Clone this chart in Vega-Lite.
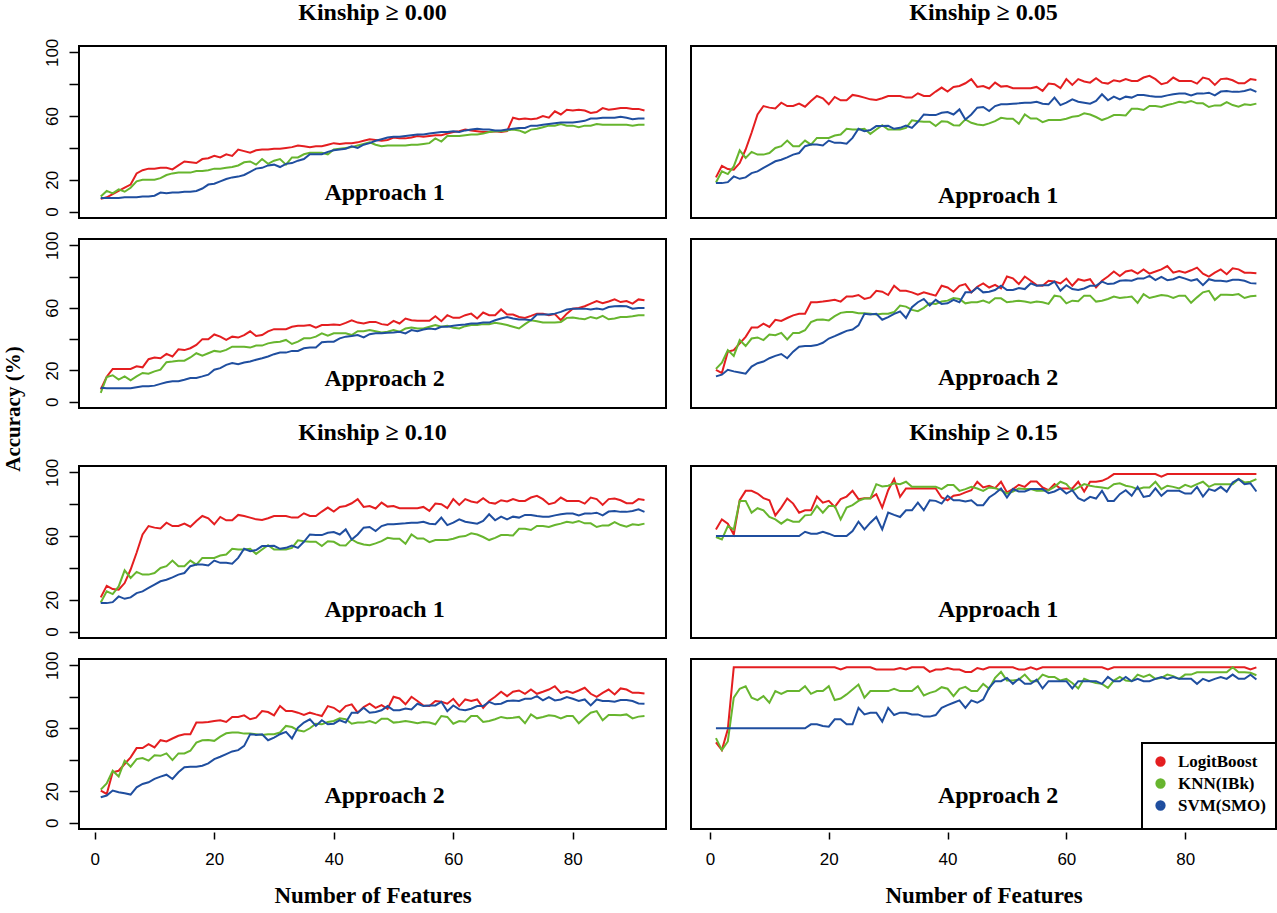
{
"$schema":"https://vega.github.io/schema/vega-lite/v6.json",
"background":"white",
"padding":{"left":2,"top":0,"right":0,"bottom":0},
"title":{"text":"Accuracy (%)","orient":"left","anchor":"middle","font":"Liberation Serif","fontSize":21,"fontWeight":"bold","color":"black","offset":18,"dx":45},
"config":{
 "view":{"stroke":"black","strokeWidth":2},
 "axis":{"labelFont":"Liberation Sans","labelFontSize":17,"labelColor":"black","tickColor":"black","grid":false,"titleFont":"Liberation Serif","titleFontWeight":"bold","titleFontSize":23,"titleColor":"black"},
 "title":{"font":"Liberation Serif","fontSize":24,"fontWeight":"bold","color":"black","offset":13},
 "text":{"font":"Liberation Serif","fontWeight":"bold","fontSize":24,"color":"black","baseline":"middle"}
},
"datasets":{"d":[
{"p":"A","x":1,"L":8,"K":9.5,"S":8.5},{"p":"A","x":2,"L":9,"K":13,"S":8.5},{"p":"A","x":3,"L":11,"K":11.5,"S":8.5},{"p":"A","x":4,"L":13,"K":14,"S":8.5},{"p":"A","x":5,"L":15,"K":12.5,"S":9},{"p":"A","x":6,"L":17,"K":15,"S":9},{"p":"A","x":7,"L":24,"K":19,"S":9},{"p":"A","x":8,"L":26,"K":20,"S":9.5},{"p":"A","x":9,"L":27,"K":20,"S":9.5},{"p":"A","x":10,"L":27,"K":20,"S":10},
{"p":"A","x":11,"L":27.5,"K":21,"S":12},{"p":"A","x":12,"L":27.5,"K":23,"S":11.5},{"p":"A","x":13,"L":26.5,"K":24,"S":12},{"p":"A","x":14,"L":29,"K":24.5,"S":12},{"p":"A","x":15,"L":31.5,"K":24.5,"S":12.5},{"p":"A","x":16,"L":31,"K":24.5,"S":12.5},{"p":"A","x":17,"L":30.5,"K":25.5,"S":13},{"p":"A","x":18,"L":33,"K":25.5,"S":14.5},{"p":"A","x":19,"L":33.5,"K":26,"S":17},{"p":"A","x":20,"L":35,"K":27,"S":17.5},
{"p":"A","x":21,"L":34,"K":27,"S":19},{"p":"A","x":22,"L":36,"K":27.5,"S":20.5},{"p":"A","x":23,"L":35,"K":28,"S":21.5},{"p":"A","x":24,"L":39,"K":29,"S":22},{"p":"A","x":25,"L":38,"K":31,"S":23},{"p":"A","x":26,"L":37,"K":31.5,"S":25},{"p":"A","x":27,"L":38.5,"K":29.5,"S":27},{"p":"A","x":28,"L":39,"K":33,"S":27.5},{"p":"A","x":29,"L":39,"K":30,"S":29},{"p":"A","x":30,"L":39.5,"K":32,"S":29.5},
{"p":"A","x":31,"L":39.5,"K":33,"S":28},{"p":"A","x":32,"L":40,"K":29.5,"S":30},{"p":"A","x":33,"L":40.5,"K":34,"S":30.5},{"p":"A","x":34,"L":41.5,"K":34,"S":32},{"p":"A","x":35,"L":41,"K":36,"S":33},{"p":"A","x":36,"L":40.5,"K":37,"S":36},{"p":"A","x":37,"L":41,"K":37,"S":36},{"p":"A","x":38,"L":41,"K":37,"S":36},{"p":"A","x":39,"L":42,"K":36,"S":37.5},{"p":"A","x":40,"L":43,"K":39,"S":38.5},
{"p":"A","x":41,"L":42.5,"K":39.5,"S":39},{"p":"A","x":42,"L":43,"K":40,"S":39.5},{"p":"A","x":43,"L":43,"K":40.5,"S":41},{"p":"A","x":44,"L":43.5,"K":41.5,"S":40},{"p":"A","x":45,"L":44.5,"K":42.5,"S":42},{"p":"A","x":46,"L":45.5,"K":43.5,"S":43},{"p":"A","x":47,"L":45,"K":42,"S":44.5},{"p":"A","x":48,"L":44.5,"K":41,"S":45.5},{"p":"A","x":49,"L":45,"K":41.5,"S":46.5},{"p":"A","x":50,"L":46.5,"K":41.5,"S":47},
{"p":"A","x":51,"L":46,"K":41.5,"S":47},{"p":"A","x":52,"L":46,"K":41.5,"S":47.5},{"p":"A","x":53,"L":46.5,"K":42,"S":48},{"p":"A","x":54,"L":47.5,"K":42,"S":48.5},{"p":"A","x":55,"L":47,"K":42.5,"S":48.5},{"p":"A","x":56,"L":47.5,"K":43,"S":49},{"p":"A","x":57,"L":48,"K":46,"S":49.5},{"p":"A","x":58,"L":48,"K":44,"S":50},{"p":"A","x":59,"L":49,"K":47.5,"S":50},{"p":"A","x":60,"L":50,"K":47.5,"S":50.5},
{"p":"A","x":61,"L":50.5,"K":47.5,"S":50},{"p":"A","x":62,"L":51.5,"K":48,"S":51},{"p":"A","x":63,"L":51,"K":48.5,"S":51.5},{"p":"A","x":64,"L":50.5,"K":48.5,"S":52},{"p":"A","x":65,"L":50,"K":49,"S":51.5},{"p":"A","x":66,"L":50,"K":50,"S":51.5},{"p":"A","x":67,"L":50.5,"K":50.5,"S":51},{"p":"A","x":68,"L":50,"K":50.5,"S":51},{"p":"A","x":69,"L":50.5,"K":51,"S":51.5},{"p":"A","x":70,"L":59,"K":51.5,"S":52},
{"p":"A","x":71,"L":58,"K":51,"S":52.5},{"p":"A","x":72,"L":58.5,"K":49.5,"S":52.5},{"p":"A","x":73,"L":58,"K":51.5,"S":54},{"p":"A","x":74,"L":58.5,"K":52,"S":54},{"p":"A","x":75,"L":60,"K":53,"S":54.5},{"p":"A","x":76,"L":59,"K":54,"S":55},{"p":"A","x":77,"L":63,"K":54,"S":55.5},{"p":"A","x":78,"L":61,"K":55,"S":56},{"p":"A","x":79,"L":64,"K":54,"S":56},{"p":"A","x":80,"L":63.5,"K":54,"S":56},
{"p":"A","x":81,"L":64,"K":53,"S":56.5},{"p":"A","x":82,"L":63.5,"K":54,"S":57},{"p":"A","x":83,"L":62,"K":54,"S":58.5},{"p":"A","x":84,"L":62.5,"K":55,"S":58.5},{"p":"A","x":85,"L":65,"K":54.5,"S":59},{"p":"A","x":86,"L":64,"K":54.5,"S":59},{"p":"A","x":87,"L":64.5,"K":54.5,"S":59},{"p":"A","x":88,"L":65,"K":54.5,"S":59.5},{"p":"A","x":89,"L":65,"K":54.5,"S":59},{"p":"A","x":90,"L":64.5,"K":54,"S":58},
{"p":"A","x":91,"L":64.5,"K":54.5,"S":58.5},{"p":"A","x":92,"L":63.5,"K":54.5,"S":58.5},
{"p":"B","x":1,"L":7.8,"K":5.7,"S":8.9},{"p":"B","x":2,"L":16,"K":15.8,"S":8.7},{"p":"B","x":3,"L":21,"K":16.9,"S":8.7},{"p":"B","x":4,"L":21,"K":14.1,"S":8.7},{"p":"B","x":5,"L":21,"K":16.2,"S":8.7},{"p":"B","x":6,"L":21,"K":13.7,"S":8.7},{"p":"B","x":7,"L":22.6,"K":16.2,"S":9.3},{"p":"B","x":8,"L":22,"K":18.4,"S":9.9},{"p":"B","x":9,"L":27.2,"K":17.9,"S":9.9},{"p":"B","x":10,"L":28.3,"K":19.4,"S":10.3},
{"p":"B","x":11,"L":27.8,"K":20.5,"S":11.4},{"p":"B","x":12,"L":30.6,"K":25.3,"S":12.4},{"p":"B","x":13,"L":28.9,"K":25.7,"S":13.1},{"p":"B","x":14,"L":33.5,"K":26.2,"S":13.1},{"p":"B","x":15,"L":33,"K":26.2,"S":14.1},{"p":"B","x":16,"L":34.2,"K":28.3,"S":15.2},{"p":"B","x":17,"L":36.3,"K":31,"S":15.2},{"p":"B","x":18,"L":40,"K":29.5,"S":16.2},{"p":"B","x":19,"L":39.9,"K":31,"S":17.3},{"p":"B","x":20,"L":43,"K":32.5,"S":20.5},
{"p":"B","x":21,"L":41.6,"K":32,"S":21.5},{"p":"B","x":22,"L":39.5,"K":33.1,"S":23.6},{"p":"B","x":23,"L":41.6,"K":35.2,"S":24.7},{"p":"B","x":24,"L":41,"K":35.2,"S":24},{"p":"B","x":25,"L":42.6,"K":35.2,"S":25.1},{"p":"B","x":26,"L":45,"K":34.6,"S":25.7},{"p":"B","x":27,"L":42,"K":35.9,"S":26.8},{"p":"B","x":28,"L":42.6,"K":35.9,"S":27.8},{"p":"B","x":29,"L":45,"K":37.3,"S":28.9},{"p":"B","x":30,"L":46.4,"K":38,"S":30.4},
{"p":"B","x":31,"L":46.4,"K":38.4,"S":31.4},{"p":"B","x":32,"L":46.4,"K":39.5,"S":31.4},{"p":"B","x":33,"L":47.9,"K":36.9,"S":32.5},{"p":"B","x":34,"L":48.5,"K":38.4,"S":32.5},{"p":"B","x":35,"L":48.5,"K":40.5,"S":34.2},{"p":"B","x":36,"L":49,"K":40.5,"S":34.6},{"p":"B","x":37,"L":47.3,"K":41.6,"S":34.6},{"p":"B","x":38,"L":49,"K":43.7,"S":38},{"p":"B","x":39,"L":49,"K":42.2,"S":38.4},{"p":"B","x":40,"L":49.4,"K":43.7,"S":38.4},
{"p":"B","x":41,"L":49,"K":43.7,"S":40.5},{"p":"B","x":42,"L":50.4,"K":43.7,"S":41.6},{"p":"B","x":43,"L":52.1,"K":42.6,"S":42},{"p":"B","x":44,"L":50.6,"K":45.1,"S":42.6},{"p":"B","x":45,"L":50,"K":45.1,"S":41.1},{"p":"B","x":46,"L":51,"K":45.8,"S":43.2},{"p":"B","x":47,"L":51,"K":45.1,"S":43.7},{"p":"B","x":48,"L":49.6,"K":44.3,"S":43.7},{"p":"B","x":49,"L":49,"K":44.7,"S":44.1},{"p":"B","x":50,"L":51.7,"K":45.8,"S":44.3},
{"p":"B","x":51,"L":50,"K":44.7,"S":44.7},{"p":"B","x":52,"L":53.2,"K":46.8,"S":43.7},{"p":"B","x":53,"L":52.1,"K":47.5,"S":45.8},{"p":"B","x":54,"L":51.7,"K":46.8,"S":45.1},{"p":"B","x":55,"L":51.7,"K":46.8,"S":46.2},{"p":"B","x":56,"L":51.7,"K":47.9,"S":46.8},{"p":"B","x":57,"L":54.6,"K":49,"S":46.4},{"p":"B","x":58,"L":51.5,"K":47.9,"S":47.9},{"p":"B","x":59,"L":55.3,"K":48.5,"S":47.9},{"p":"B","x":60,"L":53.6,"K":47.3,"S":48.5},
{"p":"B","x":61,"L":53.6,"K":46.8,"S":49},{"p":"B","x":62,"L":55.3,"K":48.3,"S":49.4},{"p":"B","x":63,"L":56.3,"K":49,"S":50},{"p":"B","x":64,"L":53.2,"K":49,"S":50},{"p":"B","x":65,"L":57,"K":49.6,"S":50.6},{"p":"B","x":66,"L":55.3,"K":49.6,"S":50.6},{"p":"B","x":67,"L":55.3,"K":50.4,"S":52.1},{"p":"B","x":68,"L":59,"K":49.8,"S":53.2},{"p":"B","x":69,"L":55.7,"K":49,"S":54.2},{"p":"B","x":70,"L":55.7,"K":47.9,"S":53.2},
{"p":"B","x":71,"L":54.2,"K":46.8,"S":52.5},{"p":"B","x":72,"L":53.6,"K":49.6,"S":52.5},{"p":"B","x":73,"L":54.9,"K":52.1,"S":52.1},{"p":"B","x":74,"L":56.3,"K":51.5,"S":55.7},{"p":"B","x":75,"L":56.3,"K":50.6,"S":55.7},{"p":"B","x":76,"L":55.3,"K":50.6,"S":55.7},{"p":"B","x":77,"L":56,"K":50.6,"S":56.3},{"p":"B","x":78,"L":52.1,"K":51,"S":57.4},{"p":"B","x":79,"L":56.3,"K":53.6,"S":58.9},{"p":"B","x":80,"L":59.5,"K":53.8,"S":59.5},
{"p":"B","x":81,"L":59.9,"K":53.2,"S":59.5},{"p":"B","x":82,"L":61,"K":52.7,"S":59.5},{"p":"B","x":83,"L":62.7,"K":54.2,"S":58.9},{"p":"B","x":84,"L":64.3,"K":53.2,"S":59.5},{"p":"B","x":85,"L":63,"K":54.9,"S":58.9},{"p":"B","x":86,"L":64.1,"K":52.7,"S":60.5},{"p":"B","x":87,"L":65.4,"K":53.2,"S":61},{"p":"B","x":88,"L":63.7,"K":54.2,"S":61.2},{"p":"B","x":89,"L":64.3,"K":54.2,"S":61},{"p":"B","x":90,"L":62.7,"K":54.6,"S":59.5},
{"p":"B","x":91,"L":65.4,"K":55.3,"S":59.9},{"p":"B","x":92,"L":64.8,"K":55.3,"S":59.9},
{"p":"C","x":1,"L":21.5,"K":18.3,"S":17.9},{"p":"C","x":2,"L":28.8,"K":25.3,"S":17.9},{"p":"C","x":3,"L":26.7,"K":23.6,"S":18.5},{"p":"C","x":4,"L":26.3,"K":28.4,"S":22.1},{"p":"C","x":5,"L":30.5,"K":38.5,"S":20.6},{"p":"C","x":6,"L":39,"K":33.7,"S":21.5},{"p":"C","x":7,"L":49.5,"K":37.5,"S":24.2},{"p":"C","x":8,"L":61,"K":35.8,"S":25.3},{"p":"C","x":9,"L":66.3,"K":35.8,"S":27.4},{"p":"C","x":10,"L":65.3,"K":36.8,"S":29.5},
{"p":"C","x":11,"L":64.8,"K":40,"S":31.6},{"p":"C","x":12,"L":68.4,"K":41.1,"S":32.6},{"p":"C","x":13,"L":66.3,"K":44.6,"S":34.1},{"p":"C","x":14,"L":66.3,"K":41.1,"S":35.8},{"p":"C","x":15,"L":67.8,"K":41.1,"S":36.8},{"p":"C","x":16,"L":65.9,"K":44.6,"S":41.1},{"p":"C","x":17,"L":69.5,"K":42.1,"S":42.1},{"p":"C","x":18,"L":72.6,"K":46.3,"S":42.1},{"p":"C","x":19,"L":71.2,"K":46.3,"S":41.5},{"p":"C","x":20,"L":67.4,"K":46.3,"S":44.6},
{"p":"C","x":21,"L":72,"K":47.8,"S":43.2},{"p":"C","x":22,"L":69.9,"K":48.4,"S":43.2},{"p":"C","x":23,"L":69.9,"K":52,"S":42.7},{"p":"C","x":24,"L":73.3,"K":51.6,"S":46.3},{"p":"C","x":25,"L":72.6,"K":51.6,"S":52},{"p":"C","x":26,"L":71.6,"K":52,"S":50.5},{"p":"C","x":27,"L":70.5,"K":48.8,"S":51.2},{"p":"C","x":28,"L":70.1,"K":51.6,"S":53.7},{"p":"C","x":29,"L":71.2,"K":54.3,"S":53.7},{"p":"C","x":30,"L":72.6,"K":51.6,"S":53.9},
{"p":"C","x":31,"L":72.6,"K":51.6,"S":52},{"p":"C","x":32,"L":72.6,"K":51.6,"S":52.6},{"p":"C","x":33,"L":71.6,"K":52.6,"S":54.1},{"p":"C","x":34,"L":71.6,"K":57.3,"S":52.6},{"p":"C","x":35,"L":74.3,"K":56.8,"S":56.4},{"p":"C","x":36,"L":72.6,"K":56.4,"S":61},{"p":"C","x":37,"L":72.6,"K":56.4,"S":60.6},{"p":"C","x":38,"L":75.4,"K":53.7,"S":60.6},{"p":"C","x":39,"L":77.9,"K":56.8,"S":62.1},{"p":"C","x":40,"L":75.4,"K":56.4,"S":62.5},
{"p":"C","x":41,"L":78.3,"K":54.3,"S":61},{"p":"C","x":42,"L":78.9,"K":54.1,"S":64.2},{"p":"C","x":43,"L":80.6,"K":57.9,"S":57.9},{"p":"C","x":44,"L":83.2,"K":55.8,"S":61},{"p":"C","x":45,"L":78.3,"K":54.7,"S":65.3},{"p":"C","x":46,"L":78.9,"K":54.3,"S":65.7},{"p":"C","x":47,"L":77.3,"K":55.4,"S":63.2},{"p":"C","x":48,"L":81,"K":56.8,"S":66.3},{"p":"C","x":49,"L":78.5,"K":58.9,"S":67.4},{"p":"C","x":50,"L":78.9,"K":58.3,"S":67.4},
{"p":"C","x":51,"L":77.5,"K":58.3,"S":67.8},{"p":"C","x":52,"L":77.5,"K":55.2,"S":68},{"p":"C","x":53,"L":77.5,"K":61,"S":68.4},{"p":"C","x":54,"L":77.5,"K":58.5,"S":68.4},{"p":"C","x":55,"L":78.3,"K":58.5,"S":69},{"p":"C","x":56,"L":75.8,"K":56.2,"S":67.8},{"p":"C","x":57,"L":80.4,"K":57.5,"S":67.4},{"p":"C","x":58,"L":80,"K":57.5,"S":71.6},{"p":"C","x":59,"L":77.5,"K":57.5,"S":66.9},{"p":"C","x":60,"L":83.2,"K":58.3,"S":68.4},
{"p":"C","x":61,"L":79.6,"K":59.6,"S":70.5},{"p":"C","x":62,"L":83.2,"K":60,"S":69},{"p":"C","x":63,"L":81.7,"K":61.7,"S":68.4},{"p":"C","x":64,"L":81,"K":61,"S":67.8},{"p":"C","x":65,"L":83.8,"K":59.4,"S":69.5},{"p":"C","x":66,"L":81,"K":57.5,"S":73.7},{"p":"C","x":67,"L":80.4,"K":58.9,"S":69.9},{"p":"C","x":68,"L":82.5,"K":60.6,"S":72.2},{"p":"C","x":69,"L":81.7,"K":60.6,"S":70.5},{"p":"C","x":70,"L":83.2,"K":60.4,"S":72.2},
{"p":"C","x":71,"L":82.1,"K":64.6,"S":71.6},{"p":"C","x":72,"L":82.1,"K":64.6,"S":73.3},{"p":"C","x":73,"L":84.2,"K":63.8,"S":73.3},{"p":"C","x":74,"L":85.3,"K":66.3,"S":72.6},{"p":"C","x":75,"L":83.2,"K":66.3,"S":72.2},{"p":"C","x":76,"L":80,"K":65.7,"S":72.2},{"p":"C","x":77,"L":81,"K":66.9,"S":73},{"p":"C","x":78,"L":84.2,"K":67.8,"S":73.7},{"p":"C","x":79,"L":82.1,"K":69,"S":74.1},{"p":"C","x":80,"L":82.1,"K":68.4,"S":74.1},
{"p":"C","x":81,"L":82.1,"K":69.5,"S":73},{"p":"C","x":82,"L":80.4,"K":68,"S":74.1},{"p":"C","x":83,"L":84.2,"K":68,"S":74.1},{"p":"C","x":84,"L":83.2,"K":65.7,"S":74.7},{"p":"C","x":85,"L":79.6,"K":66.7,"S":73},{"p":"C","x":86,"L":83.2,"K":66.7,"S":75.4},{"p":"C","x":87,"L":83.6,"K":68.8,"S":75.8},{"p":"C","x":88,"L":82.5,"K":66.9,"S":75.2},{"p":"C","x":89,"L":80.6,"K":65.9,"S":75.2},{"p":"C","x":90,"L":80.6,"K":67.4,"S":75.8},
{"p":"C","x":91,"L":83.2,"K":66.9,"S":76.8},{"p":"C","x":92,"L":82.7,"K":67.8,"S":75.2},
{"p":"D","x":1,"L":20.4,"K":21,"S":16.2},{"p":"D","x":2,"L":18.3,"K":25,"S":17.3},{"p":"D","x":3,"L":32,"K":33,"S":20.4},{"p":"D","x":4,"L":33,"K":29.3,"S":19.4},{"p":"D","x":5,"L":37.3,"K":39.4,"S":18.7},{"p":"D","x":6,"L":41.5,"K":35.6,"S":17.9},{"p":"D","x":7,"L":47.4,"K":40.4,"S":22.5},{"p":"D","x":8,"L":47.4,"K":41.1,"S":24.6},{"p":"D","x":9,"L":49.9,"K":39.4,"S":25.7},{"p":"D","x":10,"L":47.8,"K":42.9,"S":27.8},
{"p":"D","x":11,"L":52.4,"K":42.5,"S":29.3},{"p":"D","x":12,"L":51.6,"K":44,"S":30.5},{"p":"D","x":13,"L":53.5,"K":39.8,"S":27.8},{"p":"D","x":14,"L":55.2,"K":44,"S":32},{"p":"D","x":15,"L":56.2,"K":44,"S":35.2},{"p":"D","x":16,"L":56.2,"K":45.7,"S":35.6},{"p":"D","x":17,"L":63.6,"K":50.9,"S":35.6},{"p":"D","x":18,"L":63.6,"K":52.4,"S":36.2},{"p":"D","x":19,"L":64,"K":52.6,"S":37.7},{"p":"D","x":20,"L":64.6,"K":52,"S":40.4},
{"p":"D","x":21,"L":65.1,"K":54.7,"S":41.9},{"p":"D","x":22,"L":64,"K":56.8,"S":43.6},{"p":"D","x":23,"L":67.2,"K":57.3,"S":45.3},{"p":"D","x":24,"L":67.2,"K":57.3,"S":46.1},{"p":"D","x":25,"L":68.2,"K":56.6,"S":48.8},{"p":"D","x":26,"L":65.7,"K":56.6,"S":56.2},{"p":"D","x":27,"L":66.7,"K":56.2,"S":55.8},{"p":"D","x":28,"L":70.9,"K":55.8,"S":56.2},{"p":"D","x":29,"L":70.3,"K":56.2,"S":52.4},{"p":"D","x":30,"L":68.2,"K":56.2,"S":54.1},
{"p":"D","x":31,"L":74.1,"K":57.3,"S":56.2},{"p":"D","x":32,"L":70.9,"K":61.5,"S":57.7},{"p":"D","x":33,"L":70.9,"K":60.8,"S":53.5},{"p":"D","x":34,"L":69.9,"K":58.7,"S":60.4},{"p":"D","x":35,"L":68.4,"K":57.9,"S":63.6},{"p":"D","x":36,"L":69.9,"K":60,"S":65.7},{"p":"D","x":37,"L":68.8,"K":62.9,"S":61.5},{"p":"D","x":38,"L":67.8,"K":62.5,"S":65.1},{"p":"D","x":39,"L":74.1,"K":64,"S":62.5},{"p":"D","x":40,"L":73,"K":64.6,"S":62.9},
{"p":"D","x":41,"L":70.3,"K":66.3,"S":65.1},{"p":"D","x":42,"L":74.1,"K":65.7,"S":63.6},{"p":"D","x":43,"L":75.2,"K":62.9,"S":69.9},{"p":"D","x":44,"L":69.9,"K":63.6,"S":69.9},{"p":"D","x":45,"L":73.5,"K":63.6,"S":73},{"p":"D","x":46,"L":75.6,"K":64.6,"S":69.9},{"p":"D","x":47,"L":73,"K":63.2,"S":70.3},{"p":"D","x":48,"L":74.7,"K":66.1,"S":71.4},{"p":"D","x":49,"L":72.4,"K":66.1,"S":74.1},{"p":"D","x":50,"L":80,"K":63.6,"S":71.4},
{"p":"D","x":51,"L":78.9,"K":64,"S":71.4},{"p":"D","x":52,"L":75.2,"K":64.6,"S":72.6},{"p":"D","x":53,"L":80,"K":64,"S":72},{"p":"D","x":54,"L":77.3,"K":63.2,"S":75.6},{"p":"D","x":55,"L":74.5,"K":64,"S":74.1},{"p":"D","x":56,"L":74.1,"K":63.6,"S":74.5},{"p":"D","x":57,"L":77.3,"K":62.5,"S":74.5},{"p":"D","x":58,"L":76.8,"K":67.8,"S":76.8},{"p":"D","x":59,"L":75.6,"K":67.2,"S":70.9},{"p":"D","x":60,"L":78.7,"K":62.9,"S":74.5},
{"p":"D","x":61,"L":74.1,"K":64.6,"S":72},{"p":"D","x":62,"L":78.3,"K":64.2,"S":71.4},{"p":"D","x":63,"L":77.3,"K":67.8,"S":72.4},{"p":"D","x":64,"L":78.3,"K":67.8,"S":74.1},{"p":"D","x":65,"L":73,"K":64,"S":74.1},{"p":"D","x":66,"L":77.3,"K":64.6,"S":76.8},{"p":"D","x":67,"L":80,"K":65.7,"S":75.2},{"p":"D","x":68,"L":83.2,"K":67.2,"S":75.6},{"p":"D","x":69,"L":80.4,"K":66.3,"S":77.3},{"p":"D","x":70,"L":83.2,"K":66.7,"S":77.7},
{"p":"D","x":71,"L":84,"K":67.2,"S":77.3},{"p":"D","x":72,"L":81.9,"K":63.2,"S":78.7},{"p":"D","x":73,"L":84.6,"K":68.8,"S":78.7},{"p":"D","x":74,"L":81.9,"K":66.3,"S":80.4},{"p":"D","x":75,"L":83.2,"K":67.2,"S":77.7},{"p":"D","x":76,"L":84.6,"K":68.2,"S":79.8},{"p":"D","x":77,"L":86.7,"K":67.8,"S":77.7},{"p":"D","x":78,"L":82.5,"K":66.3,"S":78.3},{"p":"D","x":79,"L":83.6,"K":67.8,"S":79.8},{"p":"D","x":80,"L":82.5,"K":67.8,"S":78.7},
{"p":"D","x":81,"L":84,"K":63.2,"S":77.3},{"p":"D","x":82,"L":85.7,"K":66.7,"S":78.3},{"p":"D","x":83,"L":81.9,"K":69.9,"S":74.5},{"p":"D","x":84,"L":80,"K":70.9,"S":78.3},{"p":"D","x":85,"L":82.5,"K":65.1,"S":77.3},{"p":"D","x":86,"L":84.6,"K":68.4,"S":77.3},{"p":"D","x":87,"L":81.5,"K":68.4,"S":76.8},{"p":"D","x":88,"L":85.3,"K":68.2,"S":77.9},{"p":"D","x":89,"L":84.6,"K":68.8,"S":77.9},{"p":"D","x":90,"L":82.5,"K":66.3,"S":77.3},
{"p":"D","x":91,"L":82.5,"K":67.4,"S":75.8},{"p":"D","x":92,"L":82.1,"K":67.8,"S":75.6},
{"p":"E","x":1,"L":64.2,"K":59.4,"S":60},{"p":"E","x":2,"L":70.5,"K":57.9,"S":60},{"p":"E","x":3,"L":67.8,"K":66.3,"S":60},{"p":"E","x":4,"L":61,"K":64.2,"S":60},{"p":"E","x":5,"L":82.5,"K":82.1,"S":60},{"p":"E","x":6,"L":88.4,"K":82.1,"S":60},{"p":"E","x":7,"L":88.4,"K":74.7,"S":60},{"p":"E","x":8,"L":86.7,"K":77.5,"S":60},{"p":"E","x":9,"L":83.8,"K":76.2,"S":60},{"p":"E","x":10,"L":82.5,"K":72,"S":60},
{"p":"E","x":11,"L":73,"K":70.5,"S":60},{"p":"E","x":12,"L":77.9,"K":67.8,"S":60},{"p":"E","x":13,"L":83.6,"K":70.5,"S":60},{"p":"E","x":14,"L":80.4,"K":69,"S":60},{"p":"E","x":15,"L":74.7,"K":69,"S":60},{"p":"E","x":16,"L":76.2,"K":73,"S":62.7},{"p":"E","x":17,"L":76.2,"K":73.3,"S":61.5},{"p":"E","x":18,"L":84.8,"K":78.9,"S":61.5},{"p":"E","x":19,"L":81,"K":74.7,"S":62.7},{"p":"E","x":20,"L":82.1,"K":78.9,"S":61.5},
{"p":"E","x":21,"L":78.3,"K":78.9,"S":60},{"p":"E","x":22,"L":83.2,"K":70.5,"S":60},{"p":"E","x":23,"L":84.8,"K":77.9,"S":60},{"p":"E","x":24,"L":88.4,"K":79.4,"S":63.2},{"p":"E","x":25,"L":83.2,"K":82.1,"S":69},{"p":"E","x":26,"L":83.8,"K":83.6,"S":64.2},{"p":"E","x":27,"L":83.8,"K":83.6,"S":68.4},{"p":"E","x":28,"L":86.3,"K":92.6,"S":72},{"p":"E","x":29,"L":77.9,"K":91.2,"S":64.2},{"p":"E","x":30,"L":88.8,"K":91.6,"S":74.7},
{"p":"E","x":31,"L":95.8,"K":93.1,"S":73.3},{"p":"E","x":32,"L":84.6,"K":92.6,"S":72},{"p":"E","x":33,"L":89.9,"K":94.1,"S":76.2},{"p":"E","x":34,"L":89.9,"K":90.9,"S":76.2},{"p":"E","x":35,"L":89.9,"K":90.9,"S":81},{"p":"E","x":36,"L":89.9,"K":90.9,"S":76.2},{"p":"E","x":37,"L":89.9,"K":90.9,"S":82.5},{"p":"E","x":38,"L":89.9,"K":90.9,"S":82.1},{"p":"E","x":39,"L":84.2,"K":89.5,"S":80.4},{"p":"E","x":40,"L":82.5,"K":92,"S":85.3},
{"p":"E","x":41,"L":85.3,"K":92,"S":82.5},{"p":"E","x":42,"L":85.9,"K":88.4,"S":82.5},{"p":"E","x":43,"L":87.4,"K":89.5,"S":81.7},{"p":"E","x":44,"L":88.8,"K":90.9,"S":82.5},{"p":"E","x":45,"L":94.1,"K":89.9,"S":79.4},{"p":"E","x":46,"L":90.5,"K":88.4,"S":79.4},{"p":"E","x":47,"L":91.6,"K":90.5,"S":84.2},{"p":"E","x":48,"L":90.1,"K":90.1,"S":86.7},{"p":"E","x":49,"L":94.1,"K":88.8,"S":89.9},{"p":"E","x":50,"L":87.4,"K":86.7,"S":84.2},
{"p":"E","x":51,"L":89.5,"K":88,"S":89.5},{"p":"E","x":52,"L":92.2,"K":89.9,"S":88},{"p":"E","x":53,"L":90.9,"K":89.5,"S":88},{"p":"E","x":54,"L":94.3,"K":89.5,"S":89.5},{"p":"E","x":55,"L":94.3,"K":88.4,"S":89.5},{"p":"E","x":56,"L":90.5,"K":88.4,"S":89.5},{"p":"E","x":57,"L":88.8,"K":88.8,"S":86.9},{"p":"E","x":58,"L":92.6,"K":90.9,"S":88},{"p":"E","x":59,"L":89.9,"K":94.1,"S":89.9},{"p":"E","x":60,"L":89.9,"K":92.6,"S":86.7},
{"p":"E","x":61,"L":89.9,"K":88.4,"S":88.8},{"p":"E","x":62,"L":94.1,"K":90.5,"S":83.8},{"p":"E","x":63,"L":88,"K":92.6,"S":82.1},{"p":"E","x":64,"L":94.1,"K":91.6,"S":84.6},{"p":"E","x":65,"L":94.1,"K":90.9,"S":83.6},{"p":"E","x":66,"L":94.7,"K":90.5,"S":88.4},{"p":"E","x":67,"L":96.4,"K":89.9,"S":82.1},{"p":"E","x":68,"L":98.9,"K":92.6,"S":82.1},{"p":"E","x":69,"L":98.9,"K":93.1,"S":86.3},{"p":"E","x":70,"L":98.9,"K":91.6,"S":88.8},
{"p":"E","x":71,"L":98.9,"K":90.9,"S":85.3},{"p":"E","x":72,"L":98.9,"K":89.5,"S":90.9},{"p":"E","x":73,"L":98.9,"K":90.5,"S":84.6},{"p":"E","x":74,"L":98.9,"K":90.5,"S":85.3},{"p":"E","x":75,"L":98.9,"K":94.1,"S":89.9},{"p":"E","x":76,"L":97.3,"K":89.5,"S":85.3},{"p":"E","x":77,"L":98.9,"K":91.6,"S":88.4},{"p":"E","x":78,"L":98.9,"K":90.9,"S":88.4},{"p":"E","x":79,"L":98.9,"K":89.9,"S":88.4},{"p":"E","x":80,"L":98.9,"K":92.2,"S":86.7},
{"p":"E","x":81,"L":98.9,"K":90.9,"S":86.7},{"p":"E","x":82,"L":98.9,"K":92.6,"S":90.9},{"p":"E","x":83,"L":98.9,"K":94.1,"S":84.8},{"p":"E","x":84,"L":98.9,"K":90.9,"S":89.5},{"p":"E","x":85,"L":98.9,"K":92.6,"S":88.4},{"p":"E","x":86,"L":98.9,"K":92.6,"S":90.9},{"p":"E","x":87,"L":98.9,"K":92.6,"S":87.8},{"p":"E","x":88,"L":98.9,"K":92.6,"S":93.7},{"p":"E","x":89,"L":98.9,"K":95.8,"S":95.8},{"p":"E","x":90,"L":98.9,"K":93.7,"S":92.6},
{"p":"E","x":91,"L":98.9,"K":94.1,"S":93.1},{"p":"E","x":92,"L":98.9,"K":95.8,"S":88},
{"p":"F","x":1,"L":51,"K":53.7,"S":60},{"p":"F","x":2,"L":46.1,"K":46.1,"S":60},{"p":"F","x":3,"L":59.4,"K":51.6,"S":60},{"p":"F","x":4,"L":98.7,"K":79.4,"S":60},{"p":"F","x":5,"L":98.7,"K":85.1,"S":60},{"p":"F","x":6,"L":98.7,"K":86.7,"S":60},{"p":"F","x":7,"L":98.7,"K":79.4,"S":60},{"p":"F","x":8,"L":98.7,"K":77.9,"S":60},{"p":"F","x":9,"L":98.7,"K":80.4,"S":60},{"p":"F","x":10,"L":98.7,"K":76.2,"S":60},
{"p":"F","x":11,"L":98.7,"K":83.6,"S":60},{"p":"F","x":12,"L":98.7,"K":81.9,"S":60},{"p":"F","x":13,"L":98.7,"K":83.6,"S":60},{"p":"F","x":14,"L":98.7,"K":83.6,"S":60},{"p":"F","x":15,"L":98.7,"K":83.6,"S":60},{"p":"F","x":16,"L":98.7,"K":86.7,"S":60},{"p":"F","x":17,"L":98.7,"K":81.9,"S":62.5},{"p":"F","x":18,"L":98.7,"K":83.6,"S":62.5},{"p":"F","x":19,"L":98.7,"K":83.6,"S":61.5},{"p":"F","x":20,"L":98.7,"K":86.7,"S":61},
{"p":"F","x":21,"L":98.7,"K":77.9,"S":65.7},{"p":"F","x":22,"L":97.3,"K":78.9,"S":65.7},{"p":"F","x":23,"L":98.7,"K":81.5,"S":62.5},{"p":"F","x":24,"L":98.7,"K":84.6,"S":62.5},{"p":"F","x":25,"L":98.7,"K":87.8,"S":73},{"p":"F","x":26,"L":98.7,"K":79.4,"S":68.8},{"p":"F","x":27,"L":98.7,"K":83.6,"S":69.9},{"p":"F","x":28,"L":97.3,"K":83.6,"S":69.9},{"p":"F","x":29,"L":97.3,"K":83.6,"S":64.2},{"p":"F","x":30,"L":97.3,"K":83.6,"S":73},
{"p":"F","x":31,"L":97.3,"K":85.1,"S":68.4},{"p":"F","x":32,"L":98.3,"K":83.6,"S":69.9},{"p":"F","x":33,"L":97.3,"K":83.6,"S":69.9},{"p":"F","x":34,"L":98.7,"K":83.6,"S":68.8},{"p":"F","x":35,"L":98.7,"K":86.7,"S":68.8},{"p":"F","x":36,"L":98.7,"K":80.8,"S":67.4},{"p":"F","x":37,"L":95.8,"K":82.5,"S":67.4},{"p":"F","x":38,"L":97.3,"K":83.6,"S":68.4},{"p":"F","x":39,"L":97.3,"K":86.1,"S":73},{"p":"F","x":40,"L":98.3,"K":85.1,"S":74.7},
{"p":"F","x":41,"L":97.3,"K":80.4,"S":76.2},{"p":"F","x":42,"L":97.3,"K":85.1,"S":77.7},{"p":"F","x":43,"L":95.8,"K":86.3,"S":73},{"p":"F","x":44,"L":95.8,"K":83.6,"S":77.7},{"p":"F","x":45,"L":98.3,"K":83.6,"S":76.2},{"p":"F","x":46,"L":97.3,"K":88.2,"S":78.3},{"p":"F","x":47,"L":98.7,"K":85.1,"S":85.7},{"p":"F","x":48,"L":98.7,"K":92,"S":89.9},{"p":"F","x":49,"L":98.7,"K":95.8,"S":89.9},{"p":"F","x":50,"L":98.7,"K":90.3,"S":92},
{"p":"F","x":51,"L":98.7,"K":90.3,"S":88.2},{"p":"F","x":52,"L":97.3,"K":90.9,"S":91.4},{"p":"F","x":53,"L":97.3,"K":94.1,"S":88.2},{"p":"F","x":54,"L":98.7,"K":89.9,"S":88.2},{"p":"F","x":55,"L":97.3,"K":89.9,"S":90.9},{"p":"F","x":56,"L":98.7,"K":94.1,"S":85.3},{"p":"F","x":57,"L":98.7,"K":92.6,"S":89.9},{"p":"F","x":58,"L":98.7,"K":92.6,"S":89.9},{"p":"F","x":59,"L":98.7,"K":90.3,"S":89.9},{"p":"F","x":60,"L":98.7,"K":91.4,"S":89.9},
{"p":"F","x":61,"L":98.7,"K":88.8,"S":85.3},{"p":"F","x":62,"L":98.7,"K":85.3,"S":89.9},{"p":"F","x":63,"L":98.7,"K":91.4,"S":89.9},{"p":"F","x":64,"L":98.7,"K":89.9,"S":89.9},{"p":"F","x":65,"L":98.7,"K":88.8,"S":89.9},{"p":"F","x":66,"L":98.7,"K":88.2,"S":88.2},{"p":"F","x":67,"L":97.3,"K":85.7,"S":92.6},{"p":"F","x":68,"L":98.7,"K":90.3,"S":89.9},{"p":"F","x":69,"L":98.7,"K":92.6,"S":89.9},{"p":"F","x":70,"L":98.7,"K":90.3,"S":92.6},
{"p":"F","x":71,"L":98.7,"K":89.9,"S":89.9},{"p":"F","x":72,"L":98.7,"K":94.1,"S":91.4},{"p":"F","x":73,"L":98.7,"K":92.6,"S":89.9},{"p":"F","x":74,"L":98.7,"K":94.1,"S":89.9},{"p":"F","x":75,"L":98.7,"K":91.4,"S":91.4},{"p":"F","x":76,"L":98.7,"K":92,"S":92.6},{"p":"F","x":77,"L":98.7,"K":94.1,"S":91.4},{"p":"F","x":78,"L":98.7,"K":93.1,"S":92.6},{"p":"F","x":79,"L":98.7,"K":91.4,"S":91.4},{"p":"F","x":80,"L":98.7,"K":94.1,"S":91.4},
{"p":"F","x":81,"L":98.7,"K":94.1,"S":91.4},{"p":"F","x":82,"L":98.7,"K":95.6,"S":88.2},{"p":"F","x":83,"L":98.7,"K":95.6,"S":91.4},{"p":"F","x":84,"L":98.7,"K":95.6,"S":89.9},{"p":"F","x":85,"L":98.7,"K":95.6,"S":91.4},{"p":"F","x":86,"L":98.7,"K":95.6,"S":92.6},{"p":"F","x":87,"L":98.7,"K":95.6,"S":91.4},{"p":"F","x":88,"L":98.7,"K":98.7,"S":94.1},{"p":"F","x":89,"L":98.7,"K":95.6,"S":91.4},{"p":"F","x":90,"L":98.7,"K":95.6,"S":91.4},
{"p":"F","x":91,"L":97.3,"K":95.2,"S":94},{"p":"F","x":92,"L":98.7,"K":93.7,"S":91}
]},
"spacing":11,
"resolve":{"scale":{"color":"independent"}},
"vconcat":[
 {"spacing":25,"bounds":"flush","resolve":{"scale":{"color":"independent"}},"hconcat":[
  {"width":587,"height":172,"title":{"text":"Kinship ≥ 0.00","frame":"group"},"layer":[
   {"data":{"name":"d"},"transform":[{"filter":"datum.p=='A'"},{"fold":["L","K","S"],"as":["m","acc"]}],"mark":{"type":"line","strokeWidth":2,"clip":true},
    "encoding":{"x":{"field":"x","type":"quantitative","scale":{"domain":[-2.64,95.6],"nice":false,"zero":false},"axis":null},
     "y":{"field":"acc","type":"quantitative","scale":{"domain":[-4,104],"nice":false,"zero":false},"axis":{"values":[0,20,40,60,80,100],"labelExpr":"datum.value==40||datum.value==80?'':datum.label","labelAngle":-90,"domain":false,"tickSize":9,"tickWidth":1.5,"offset":1,"labelPadding":8,"title":null}},
     "color":{"field":"m","type":"nominal","scale":{"domain":["L","K","S"],"range":["#e41e20","#67b52e","#1f4e9f"]},"legend":null}}},
   {"data":{"values":[{"t":"Approach 1"}]},"mark":{"type":"text"},
    "encoding":{"x":{"datum":48.5,"type":"quantitative","axis":null},"y":{"datum":12,"type":"quantitative","axis":{"values":[0,20,40,60,80,100],"labelExpr":"datum.value==40||datum.value==80?'':datum.label","labelAngle":-90,"domain":false,"tickSize":9,"tickWidth":1.5,"offset":1,"labelPadding":8,"title":null}},"text":{"field":"t"}}}
  ]},
  {"width":585,"height":172,"title":{"text":"Kinship ≥ 0.05","frame":"group","offset":21},"layer":[
   {"data":{"name":"d"},"transform":[{"filter":"datum.p=='C'"},{"fold":["L","K","S"],"as":["m","acc"]}],"mark":{"type":"line","strokeWidth":2,"clip":true},
    "encoding":{"x":{"field":"x","type":"quantitative","scale":{"domain":[-3.2,95.3],"nice":false,"zero":false},"axis":null},
     "y":{"field":"acc","type":"quantitative","scale":{"domain":[-4,104],"nice":false,"zero":false},"axis":null},
     "color":{"field":"m","type":"nominal","scale":{"domain":["L","K","S"],"range":["#e41e20","#67b52e","#1f4e9f"]},"legend":null}}},
   {"data":{"values":[{"t":"Approach 1"}]},"mark":{"type":"text"},
    "encoding":{"x":{"datum":48.5,"type":"quantitative","axis":null},"y":{"datum":10,"type":"quantitative","axis":null},"text":{"field":"t"}}}
  ]}
 ]},
 {"spacing":25,"bounds":"flush","resolve":{"scale":{"color":"independent"}},"hconcat":[
  {"width":587,"height":169,"layer":[
   {"data":{"name":"d"},"transform":[{"filter":"datum.p=='B'"},{"fold":["L","K","S"],"as":["m","acc"]}],"mark":{"type":"line","strokeWidth":2,"clip":true},
    "encoding":{"x":{"field":"x","type":"quantitative","scale":{"domain":[-2.64,95.6],"nice":false,"zero":false},"axis":null},
     "y":{"field":"acc","type":"quantitative","scale":{"domain":[-4,104],"nice":false,"zero":false},"axis":{"values":[0,20,40,60,80,100],"labelExpr":"datum.value==40||datum.value==80?'':datum.label","labelAngle":-90,"domain":false,"tickSize":9,"tickWidth":1.5,"offset":1,"labelPadding":8,"title":null}},
     "color":{"field":"m","type":"nominal","scale":{"domain":["L","K","S"],"range":["#e41e20","#67b52e","#1f4e9f"]},"legend":null}}},
   {"data":{"values":[{"t":"Approach 2"}]},"mark":{"type":"text"},
    "encoding":{"x":{"datum":48.5,"type":"quantitative","axis":null},"y":{"datum":14.5,"type":"quantitative","axis":{"values":[0,20,40,60,80,100],"labelExpr":"datum.value==40||datum.value==80?'':datum.label","labelAngle":-90,"domain":false,"tickSize":9,"tickWidth":1.5,"offset":1,"labelPadding":8,"title":null}},"text":{"field":"t"}}}
  ]},
  {"width":585,"height":169,"layer":[
   {"data":{"name":"d"},"transform":[{"filter":"datum.p=='D'"},{"fold":["L","K","S"],"as":["m","acc"]}],"mark":{"type":"line","strokeWidth":2,"clip":true},
    "encoding":{"x":{"field":"x","type":"quantitative","scale":{"domain":[-3.2,95.3],"nice":false,"zero":false},"axis":null},
     "y":{"field":"acc","type":"quantitative","scale":{"domain":[-4,104],"nice":false,"zero":false},"axis":null},
     "color":{"field":"m","type":"nominal","scale":{"domain":["L","K","S"],"range":["#e41e20","#67b52e","#1f4e9f"]},"legend":null}}},
   {"data":{"values":[{"t":"Approach 2"}]},"mark":{"type":"text"},
    "encoding":{"x":{"datum":48.5,"type":"quantitative","axis":null},"y":{"datum":15,"type":"quantitative","axis":null},"text":{"field":"t"}}}
  ]}
 ]},
 {"spacing":25,"bounds":"flush","resolve":{"scale":{"color":"independent"}},"hconcat":[
  {"width":587,"height":172,"title":{"text":"Kinship ≥ 0.10","frame":"group"},"layer":[
   {"data":{"name":"d"},"transform":[{"filter":"datum.p=='C'"},{"fold":["L","K","S"],"as":["m","acc"]}],"mark":{"type":"line","strokeWidth":2,"clip":true},
    "encoding":{"x":{"field":"x","type":"quantitative","scale":{"domain":[-2.64,95.6],"nice":false,"zero":false},"axis":null},
     "y":{"field":"acc","type":"quantitative","scale":{"domain":[-4,104],"nice":false,"zero":false},"axis":{"values":[0,20,40,60,80,100],"labelExpr":"datum.value==40||datum.value==80?'':datum.label","labelAngle":-90,"domain":false,"tickSize":9,"tickWidth":1.5,"offset":1,"labelPadding":8,"title":null}},
     "color":{"field":"m","type":"nominal","scale":{"domain":["L","K","S"],"range":["#e41e20","#67b52e","#1f4e9f"]},"legend":null}}},
   {"data":{"values":[{"t":"Approach 1"}]},"mark":{"type":"text"},
    "encoding":{"x":{"datum":48.5,"type":"quantitative","axis":null},"y":{"datum":13.5,"type":"quantitative","axis":{"values":[0,20,40,60,80,100],"labelExpr":"datum.value==40||datum.value==80?'':datum.label","labelAngle":-90,"domain":false,"tickSize":9,"tickWidth":1.5,"offset":1,"labelPadding":8,"title":null}},"text":{"field":"t"}}}
  ]},
  {"width":585,"height":172,"title":{"text":"Kinship ≥ 0.15","frame":"group","offset":21},"layer":[
   {"data":{"name":"d"},"transform":[{"filter":"datum.p=='E'"},{"fold":["L","K","S"],"as":["m","acc"]}],"mark":{"type":"line","strokeWidth":2,"clip":true},
    "encoding":{"x":{"field":"x","type":"quantitative","scale":{"domain":[-3.2,95.3],"nice":false,"zero":false},"axis":null},
     "y":{"field":"acc","type":"quantitative","scale":{"domain":[-4,104],"nice":false,"zero":false},"axis":null},
     "color":{"field":"m","type":"nominal","scale":{"domain":["L","K","S"],"range":["#e41e20","#67b52e","#1f4e9f"]},"legend":null}}},
   {"data":{"values":[{"t":"Approach 1"}]},"mark":{"type":"text"},
    "encoding":{"x":{"datum":48.5,"type":"quantitative","axis":null},"y":{"datum":13.5,"type":"quantitative","axis":null},"text":{"field":"t"}}}
  ]}
 ]},
 {"spacing":25,"bounds":"flush","resolve":{"scale":{"color":"independent"}},"hconcat":[
  {"width":587,"height":170,"layer":[
   {"data":{"name":"d"},"transform":[{"filter":"datum.p=='D'"},{"fold":["L","K","S"],"as":["m","acc"]}],"mark":{"type":"line","strokeWidth":2,"clip":true},
    "encoding":{"x":{"field":"x","type":"quantitative","scale":{"domain":[-2.64,95.6],"nice":false,"zero":false},"axis":{"values":[0,20,40,60,80],"domain":false,"tickSize":7,"tickWidth":1.5,"offset":3,"labelPadding":12,"labelAngle":0,"title":"Number of Features","titlePadding":17}},
     "y":{"field":"acc","type":"quantitative","scale":{"domain":[-4,104],"nice":false,"zero":false},"axis":{"values":[0,20,40,60,80,100],"labelExpr":"datum.value==40||datum.value==80?'':datum.label","labelAngle":-90,"domain":false,"tickSize":9,"tickWidth":1.5,"offset":1,"labelPadding":8,"title":null}},
     "color":{"field":"m","type":"nominal","scale":{"domain":["L","K","S"],"range":["#e41e20","#67b52e","#1f4e9f"]},"legend":null}}},
   {"data":{"values":[{"t":"Approach 2"}]},"mark":{"type":"text"},
    "encoding":{"x":{"datum":48.5,"type":"quantitative","axis":{"values":[0,20,40,60,80],"domain":false,"tickSize":7,"tickWidth":1.5,"offset":3,"labelPadding":12,"labelAngle":0,"title":"Number of Features","titlePadding":17}},"y":{"datum":17,"type":"quantitative","axis":{"values":[0,20,40,60,80,100],"labelExpr":"datum.value==40||datum.value==80?'':datum.label","labelAngle":-90,"domain":false,"tickSize":9,"tickWidth":1.5,"offset":1,"labelPadding":8,"title":null}},"text":{"field":"t"}}}
  ]},
  {"width":585,"height":170,"layer":[
   {"data":{"name":"d"},"transform":[{"filter":"datum.p=='F'"},{"fold":["L","K","S"],"as":["m","acc"]}],"mark":{"type":"line","strokeWidth":2,"clip":true},
    "encoding":{"x":{"field":"x","type":"quantitative","scale":{"domain":[-3.2,95.3],"nice":false,"zero":false},"axis":{"values":[0,20,40,60,80],"domain":false,"tickSize":7,"tickWidth":1.5,"offset":3,"labelPadding":12,"labelAngle":0,"title":"Number of Features","titlePadding":17}},
     "y":{"field":"acc","type":"quantitative","scale":{"domain":[-4,104],"nice":false,"zero":false},"axis":null},
     "color":{"field":"m","type":"nominal","scale":{"domain":["L","K","S"],"range":["#e41e20","#67b52e","#1f4e9f"]},
      "legend":{"orient":"bottom-right","offset":0,"title":null,"labelExpr":"datum.label=='L'?'LogitBoost':datum.label=='K'?'KNN(IBk)':'SVM(SMO)'","symbolType":"circle","symbolSize":28,"symbolStrokeWidth":5,"labelFont":"Liberation Serif","labelFontWeight":"bold","labelFontSize":17,"labelColor":"black","strokeColor":"black","fillColor":"white","padding":10,"rowPadding":-6,"labelOffset":9,
       "encode":{"symbols":{"update":{"strokeWidth":{"value":5}}},"legend":{"update":{"strokeWidth":{"value":2}}}}}}}},
   {"data":{"values":[{"t":"Approach 2"}]},"mark":{"type":"text"},
    "encoding":{"x":{"datum":48.5,"type":"quantitative","axis":{"values":[0,20,40,60,80],"domain":false,"tickSize":7,"tickWidth":1.5,"offset":3,"labelPadding":12,"labelAngle":0,"title":"Number of Features","titlePadding":17}},"y":{"datum":17,"type":"quantitative","axis":null},"text":{"field":"t"}}}
  ]}
 ]}
]
}
